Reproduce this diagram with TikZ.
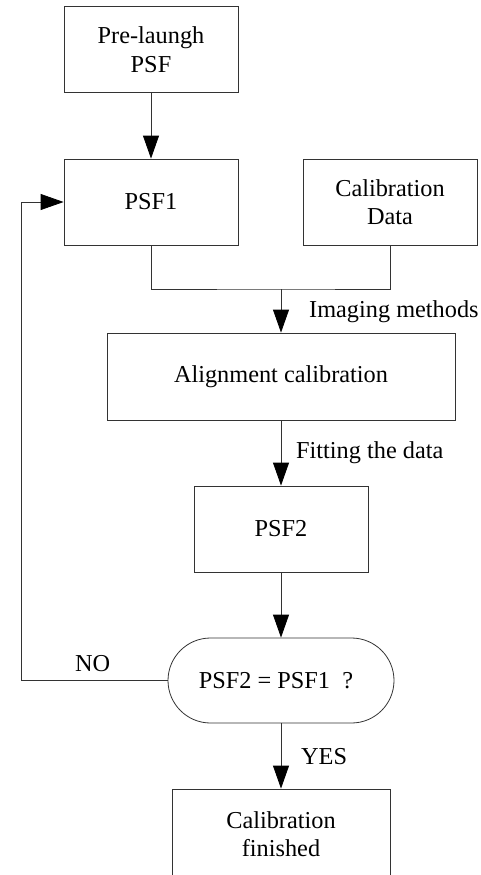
\documentclass[tikz,border=0pt]{standalone}
\usepackage{fontspec}
\setmainfont{Liberation Serif}
\usetikzlibrary{arrows.meta}

\begin{document}
\begin{tikzpicture}[x=1pt, y=-1pt,
    box/.style={draw=black!80, line width=0.8pt, minimum width=174pt, minimum height=86pt,
        inner sep=0pt, align=center, font=\fontsize{24.3}{28.5}\selectfont},
    lbl/.style={anchor=west, inner sep=0pt, font=\fontsize{24.3}{28.5}\selectfont},
    line/.style={draw=black!80, line width=0.8pt},
    arr/.style={line, -{Triangle[length=23pt, width=16pt, color=black, fill=black]}}]
    \useasboundingbox (0,0) rectangle (481,875);
    % Boxes
    \node[box] (pre) at (151,49.5) {Pre-laungh\\PSF};
    \node[box] (psf1) at (151,202) {PSF1};
    \node[box] (cal) at (390,202) {Calibration\\Data};
    \node[box, minimum width=348pt, minimum height=87pt] (align) at (281,376.5) {Alignment calibration};
    \node[box] (psf2) at (281,529) {PSF2};
    \node[box, minimum width=226pt, minimum height=85pt, rounded corners=42.5pt] (test) at (281,680.5) {PSF2 = PSF1 \ ?\hspace{10pt}};
    \node[box, minimum width=218pt, minimum height=90pt] (fin) at (281,834) {Calibration\\finished};
    % Connectors
    \coordinate (junc) at (281,289);
    \coordinate (loop) at (21,680.5);
    \draw[arr] (pre) -- (psf1);
    \draw[line] (psf1.south) |- (junc) -| (cal.south);
    \draw[arr] (junc) -- (align.north);
    \draw[arr] (align) -- (psf2);
    \draw[arr] (psf2) -- (test);
    \draw[arr] (test) -- (fin);
    \draw[arr] (test.west) -- (loop) |- (psf1.west);
    % Labels
    \node[lbl] (imglbl) at (309,312) {Imaging methods};
    \node[lbl] (fitlbl) at (296,453) {Fitting the data};
    \node[lbl] (yeslbl) at (301,757) {YES};
    \node[lbl] (nolbl) at (75,664) {NO};
\end{tikzpicture}
\end{document}
